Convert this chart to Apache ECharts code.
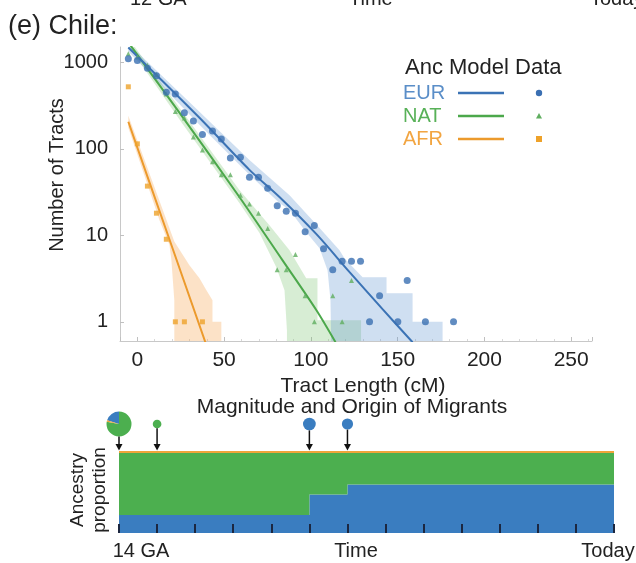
<!DOCTYPE html>
<html>
<head>
<meta charset="utf-8">
<style>
  html, body { margin: 0; padding: 0; background: #fff; }
  #chart { width: 636px; height: 563px; }
</style>
<script src="https://cdn.jsdelivr.net/npm/echarts@6.0.0/dist/echarts.min.js"></script>
</head>
<body>
<div id="chart"></div>
<script>
// observed tract length histograms (bin centre in cM, number of tracts)
const eurLen = [-5.2, 0, 5.8, 11, 16.7, 21.9, 27.1, 32.3, 37.5, 43.3, 48.4, 53.6, 59.4, 64.6, 69.8, 75.1, 80.6, 85.8, 91.1, 96.7, 102, 107.3, 112.6, 118, 123.4, 128.6, 133.8, 139.6, 150.1, 155.5, 166, 182.2];
const eurCount = [1100, 1050, 850, 700, 450, 430, 260, 210, 146, 160, 130, 78, 80, 47, 47, 35, 22, 19, 18, 11, 13, 7, 4, 5, 5, 5, 1, 2, 1, 3, 1, 1];
const natLen = [-5.2, 0, 5.8, 11, 16.7, 21.9, 27.1, 32.3, 37.5, 43.3, 48.4, 53.6, 59.4, 64.6, 69.8, 75.1, 80.6, 85.8, 91.1, 96.7, 102, 112.6, 118, 123.4];
const natCount = [1250, 1150, 920, 720, 430, 270, 226, 137, 97, 71, 50, 50, 29, 23, 18, 12, 4, 4, 6, 2, 1, 2, 1, 3];
const afrLen = [-5.2, 0, 5.8, 11, 16.7, 21.9, 27.1, 37.5];
const afrCount = [520, 114, 37, 18, 9, 1, 1, 1];

// model predictions
const eurModel = [[-5.2, 1480], [35.8, 228], [64.6, 57], [81.9, 27.7], [103.2, 10.3], [122.3, 3.75], [141.3, 1.4], [158.6, 0.58]];
const natModel = [[-5.2, 1700], [-2.9, 1465], [26, 234], [58.8, 27.7], [83.6, 5.16], [103.2, 1.36], [114.2, 0.58]];
const afrModel = [[-5.2, 205], [17, 10.9], [39.2, 0.58]];

// confidence bands (upper / lower edges)
const eurBandUpper = [[-5.2, 1643], [35.8, 268], [64.6, 74], [87.7, 29], [105, 12.1], [116.5, 6.7], [119.4, 5.4], [129.8, 3.28], [143.6, 3.28], [143.6, 2.14], [158.6, 2.14], [158.6, 1.0], [175.9, 1.0], [175.9, 0.3]];
const eurBandLower = [[-5.2, 1327], [35.8, 189], [64.6, 50], [81.9, 23.6], [87.7, 19.6], [96.3, 11.5], [105, 7.1], [109.6, 3.95], [111.3, 1.77], [111.9, 0.3]];
const natBandUpper = [[-5.2, 2100], [-2.9, 1643], [26, 268], [58.8, 33.4], [76.1, 13.1], [87.7, 6.7], [97.3, 3.19], [103.8, 3.19], [103.8, 1.04], [128.9, 1.04], [128.9, 0.3]];
const natBandLower = [[-5.2, 1500], [-2.9, 1327], [26, 194], [58.8, 23.6], [70.4, 10.6], [80, 4.3], [84.8, 2.32], [86.2, 0.8], [86.2, 0.3]];
const afrBandUpper = [[-5.2, 240], [21.3, 8.5], [30, 4.5], [35.8, 3.19], [39.8, 2.32], [43.3, 1.77], [43.3, 1.0], [48.4, 1.0], [48.4, 0.3]];
const afrBandLower = [[-5.2, 175], [12.7, 15], [18.5, 7.7], [19.6, 5.2], [21.3, 1.77], [21.3, 0.3]];

// ancestry proportions through time (generation index 0 = 14 GA)
const genTick = [0, 1, 2, 3, 4, 5, 6, 7, 8, 9, 10, 11, 12, 13];
const eurProp = [0.22, 0.22, 0.22, 0.22, 0.22, 0.47, 0.59, 0.59, 0.59, 0.59, 0.59, 0.59, 0.59, 0.59];
const natProp = [0.755, 0.755, 0.755, 0.755, 0.755, 0.505, 0.385, 0.385, 0.385, 0.385, 0.385, 0.385, 0.385, 0.385];
const afrProp = [0.025, 0.025, 0.025, 0.025, 0.025, 0.025, 0.025, 0.025, 0.025, 0.025, 0.025, 0.025, 0.025, 0.025];

// migration pulses
const migGen = [0, 1, 5, 6];
const migSize = [1, 0.12, 0.26, 0.2];
const migEur = [0.2, 0, 1, 1];
const migNat = [0.78, 1, 0, 0];
const migAfr = [0.02, 0, 0, 0];

const FONT = '"Liberation Sans", Arial, sans-serif';
const BLUE = '#3b73b5';
const GREEN = '#4ca84b';
const ORANGE = '#ec9a2c';
const BLUE_FILL = '#3a7dc0';
const GREEN_FILL = '#4caf4f';
const ORANGE_FILL = '#f0a43a';

function bandSeries(upper, lower, fill) {
  return {
    type: 'custom',
    xAxisIndex: 0,
    yAxisIndex: 0,
    silent: true,
    z: 1,
    data: [[50, 10]],
    renderItem: function (params, api) {
      let pts = upper.map(p => api.coord(p));
      pts = pts.concat(lower.slice().reverse().map(p => api.coord(p)));
      const cs = params.coordSys;
      return {
        type: 'polygon',
        shape: { points: pts },
        style: { fill: fill },
        clipPath: { type: 'rect', shape: { x: cs.x, y: cs.y, width: cs.width, height: cs.height } }
      };
    }
  };
}

function modelSeries(data, color) {
  return {
    type: 'line',
    xAxisIndex: 0,
    yAxisIndex: 0,
    data: data,
    smooth: 0.3,
    showSymbol: false,
    silent: true,
    z: 3,
    lineStyle: { color: color, width: 2 }
  };
}

function pointSeries(xs, ys, symbol, size, color) {
  return {
    type: 'scatter',
    xAxisIndex: 0,
    yAxisIndex: 0,
    data: xs.map((x, i) => [x, ys[i]]),
    symbol: symbol,
    symbolSize: size,
    silent: true,
    z: 4,
    itemStyle: { color: color }
  };
}

const legendRows = [['EUR', '#5a8ec8', BLUE, 'circle'], ['NAT', '#58b158', GREEN, 'triangle'], ['AFR', '#f2a541', ORANGE, 'rect']];
const legendGraphics = [
  { type: 'text', x: 405, y: 68, style: { text: 'Anc Model Data', font: '22px ' + FONT, fill: '#222', verticalAlign: 'middle' } }
];
legendRows.forEach((r, i) => {
  const y = 93 + i * 23;
  legendGraphics.push({ type: 'text', x: 403, y: y, style: { text: r[0], font: '20px ' + FONT, fill: r[1], verticalAlign: 'middle' } });
  legendGraphics.push({ type: 'line', shape: { x1: 458, y1: y, x2: 504, y2: y }, style: { stroke: r[2], lineWidth: 2.5 } });
  if (r[3] === 'circle') {
    legendGraphics.push({ type: 'circle', shape: { cx: 539, cy: y, r: 3.2 }, style: { fill: '#3a6fb2' } });
  } else if (r[3] === 'triangle') {
    legendGraphics.push({ type: 'polygon', shape: { points: [[539, y - 3], [542, y + 2.5], [536, y + 2.5]] }, style: { fill: '#5fae5f' } });
  } else {
    legendGraphics.push({ type: 'rect', shape: { x: 536, y: y - 3, width: 6, height: 6 }, style: { fill: '#eea22a' } });
  }
});

const chart = echarts.init(document.getElementById('chart'), null, { renderer: 'canvas' });

chart.setOption({
  animation: false,
  backgroundColor: '#fff',
  textStyle: { fontFamily: FONT },
  grid: [
    { left: 120, top: 47, width: 472, height: 294, outerBoundsMode: 'none', containLabel: false },
    { left: 119, top: 451, width: 495, height: 82, outerBoundsMode: 'none', containLabel: false }
  ],
  xAxis: [
    {
      gridIndex: 0,
      type: 'value',
      min: -10,
      max: 262,
      name: 'Tract Length (cM)',
      nameLocation: 'middle',
      nameGap: 30,
      nameTextStyle: { fontSize: 21, color: '#222', fontFamily: FONT, padding: [0, 0, 0, 14] },
      axisLine: { onZero: false, lineStyle: { color: '#c8c8c8' } },
      axisTick: { inside: true, length: 4, lineStyle: { color: '#c0c0c0' } },
      minorTick: { show: true, splitNumber: 5, length: 2, lineStyle: { color: '#d8d8d8' } },
      axisLabel: { fontSize: 21, color: '#222', margin: 9, showMinLabel: false, showMaxLabel: false, fontFamily: FONT },
      splitLine: { show: false }
    },
    {
      gridIndex: 1,
      type: 'value',
      min: 0,
      max: 13,
      interval: 1,
      z: 10,
      axisLine: { show: false },
      axisTick: { inside: true, length: 9, lineStyle: { color: '#1c2740', width: 2 } },
      axisLabel: { show: false },
      splitLine: { show: false }
    }
  ],
  yAxis: [
    {
      gridIndex: 0,
      type: 'log',
      logBase: 10,
      min: 0.6,
      max: 1500,
      axisLine: { show: true, onZero: false, lineStyle: { color: '#c8c8c8' } },
      axisTick: { show: true, inside: true, length: 4, lineStyle: { color: '#c0c0c0' } },
      axisLabel: {
        fontSize: 20, color: '#222', margin: 12, fontFamily: FONT,
        showMinLabel: false, showMaxLabel: false,
        formatter: v => String(Math.round(v))
      },
      splitLine: { show: false }
    },
    { gridIndex: 1, type: 'value', min: 0, max: 1, show: false }
  ],
  graphic: [
    { type: 'text', left: 8, top: 13, style: { text: '(e) Chile:', font: '27px ' + FONT, fill: '#222' } },
    { type: 'text', x: 130, y: 9, style: { text: '12 GA', font: '20px ' + FONT, fill: '#222', verticalAlign: 'bottom' } },
    { type: 'text', x: 349, y: 9, style: { text: 'Time', font: '20px ' + FONT, fill: '#222', verticalAlign: 'bottom' } },
    { type: 'text', x: 590, y: 9, style: { text: 'Today', font: '20px ' + FONT, fill: '#222', verticalAlign: 'bottom' } },
    { type: 'text', x: 57, y: 175, rotation: Math.PI / 2, style: { text: 'Number of Tracts', font: '20px ' + FONT, fill: '#222', align: 'center', verticalAlign: 'middle' } },
    { type: 'text', x: 352, y: 407, style: { text: 'Magnitude and Origin of Migrants', font: '21px ' + FONT, fill: '#222', align: 'center', verticalAlign: 'middle' } },
    { type: 'text', x: 89, y: 490, rotation: Math.PI / 2, style: { text: 'Ancestry\nproportion', font: '19px ' + FONT, lineHeight: 22, fill: '#222', align: 'center', verticalAlign: 'middle' } },
    { type: 'text', x: 141, y: 551, style: { text: '14 GA', font: '20px ' + FONT, fill: '#222', align: 'center', verticalAlign: 'middle' } },
    { type: 'text', x: 356, y: 551, style: { text: 'Time', font: '20px ' + FONT, fill: '#222', align: 'center', verticalAlign: 'middle' } },
    { type: 'text', x: 608, y: 551, style: { text: 'Today', font: '20px ' + FONT, fill: '#222', align: 'center', verticalAlign: 'middle' } }
  ].concat(legendGraphics),
  series: [
    bandSeries(afrBandUpper, afrBandLower, 'rgba(245,160,70,0.3)'),
    bandSeries(natBandUpper, natBandLower, 'rgba(110,190,100,0.28)'),
    bandSeries(eurBandUpper, eurBandLower, 'rgba(95,150,210,0.3)'),
    modelSeries(afrModel, ORANGE),
    modelSeries(natModel, GREEN),
    modelSeries(eurModel, BLUE),
    pointSeries(afrLen, afrCount, 'rect', 5, '#eea22a'),
    pointSeries(natLen, natCount, 'triangle', 5, '#5fae5f'),
    pointSeries(eurLen, eurCount, 'circle', 7, '#3a6fb2'),
    {
      // ancestry proportion per generation, stacked EUR / NAT / AFR as step polygons
      type: 'custom',
      xAxisIndex: 1,
      yAxisIndex: 1,
      silent: true,
      z: 2,
      data: [[0, 0.5]],
      renderItem: function (params, api) {
        const layers = [[eurProp, BLUE_FILL], [natProp, GREEN_FILL], [afrProp, ORANGE_FILL]];
        const n = genTick.length - 1;
        const base = genTick.map(() => 0);
        const children = [];
        layers.forEach(l => {
          const topPts = [];
          const botPts = [];
          for (let i = 0; i < n; i++) {
            const t = base[i] + l[0][i];
            topPts.push(api.coord([genTick[i], t]), api.coord([genTick[i + 1], t]));
            botPts.push(api.coord([genTick[i], base[i]]), api.coord([genTick[i + 1], base[i]]));
          }
          children.push({
            type: 'polygon',
            shape: { points: topPts.concat(botPts.reverse()) },
            style: { fill: l[1] }
          });
          for (let i = 0; i < n; i++) base[i] += l[0][i];
        });
        return { type: 'group', children: children };
      }
    },
    {
      type: 'custom',
      xAxisIndex: 1,
      yAxisIndex: 1,
      silent: true,
      z: 6,
      data: migGen.map(g => [g, 1]),
      renderItem: function (params, api) {
        const i = params.dataIndex;
        const top = api.coord([migGen[i], 1]);
        const r = 12.5 * Math.sqrt(migSize[i]);
        const cx = top[0];
        const cy = top[1] - 27;
        const start = -Math.PI / 2;
        const parts = [
          [start - migEur[i] * 2 * Math.PI, start, BLUE_FILL],
          [start, start + migNat[i] * 2 * Math.PI, GREEN_FILL],
          [start + migNat[i] * 2 * Math.PI, start + (migNat[i] + migAfr[i]) * 2 * Math.PI, ORANGE_FILL]
        ];
        const children = [];
        parts.forEach(p => {
          if (p[1] - p[0] > 1e-6) {
            children.push({ type: 'sector', shape: { cx: cx, cy: cy, r: r, r0: 0, startAngle: p[0], endAngle: p[1], clockwise: true }, style: { fill: p[2] } });
          }
        });
        children.push({ type: 'line', shape: { x1: cx, y1: cy + r, x2: cx, y2: top[1] - 6 }, style: { stroke: '#111', lineWidth: 1.5 } });
        children.push({ type: 'polygon', shape: { points: [[cx - 3.5, top[1] - 7], [cx + 3.5, top[1] - 7], [cx, top[1] - 0.5]] }, style: { fill: '#111' } });
        return { type: 'group', children: children };
      }
    }
  ]
});
</script>
</body>
</html>
